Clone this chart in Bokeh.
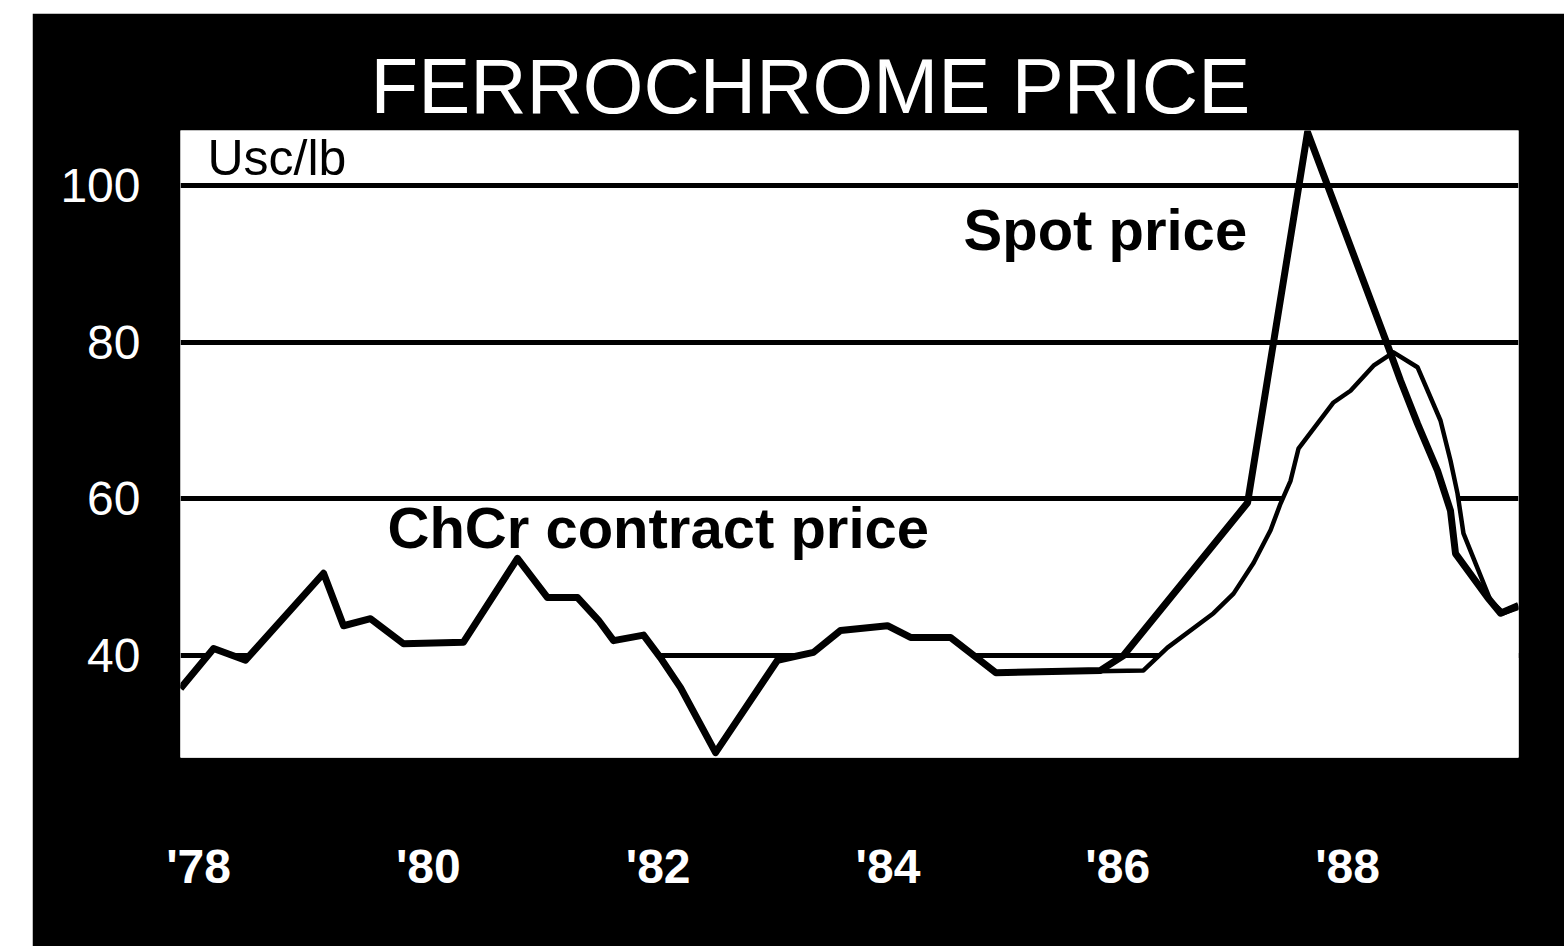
from bokeh.plotting import figure
from bokeh.models import FixedTicker, Label, Spacer, Range1d
from bokeh.layouts import row, column
from bokeh.embed import file_html
from bokeh.resources import INLINE

# ---- data ----
contract_years = [1977.843, 1978.131, 1978.409, 1979.088, 1979.262, 1979.497, 1979.784,
                  1980.306, 1980.776, 1981.037, 1981.299, 1981.481, 1981.612, 1981.873,
                  1982.021, 1982.195, 1982.500, 1983.039, 1983.352, 1983.587, 1983.996,
                  1984.197, 1984.545, 1984.940, 1986.224, 1986.433, 1986.834, 1987.008,
                  1987.182, 1987.330, 1987.417, 1987.504, 1987.573, 1987.878, 1988.026,
                  1988.226, 1988.400, 1988.609, 1988.809, 1988.896, 1988.957, 1989.009,
                  1989.245, 1989.358, 1989.488]
contract_values = [35.8, 40.9, 39.4, 50.5, 43.8, 44.7, 41.5,
                   41.7, 52.4, 47.4, 47.4, 44.5, 41.9, 42.6,
                   39.7, 35.9, 27.6, 39.4, 40.4, 43.2, 43.8,
                   42.3, 42.3, 37.8, 38.1, 41.0, 45.4, 47.9,
                   51.8, 56.0, 59.4, 62.3, 66.4, 72.3, 73.8,
                   77.0, 78.7, 76.8, 70.0, 64.9, 60.7, 55.6,
                   47.0, 45.4, 46.1]

spot_years = [1977.843, 1978.131, 1978.409, 1979.088, 1979.262, 1979.497, 1979.784,
              1980.306, 1980.776, 1981.037, 1981.299, 1981.481, 1981.612, 1981.873,
              1982.021, 1982.195, 1982.500, 1983.039, 1983.352, 1983.587, 1983.996,
              1984.197, 1984.545, 1984.940, 1985.850, 1986.050, 1987.130, 1987.652,
              1988.357, 1988.461, 1988.609, 1988.783, 1988.896, 1988.940, 1989.219,
              1989.332, 1989.488]
spot_values = [35.8, 40.9, 39.4, 50.5, 43.8, 44.7, 41.5,
               41.7, 52.4, 47.4, 47.4, 44.5, 41.9, 42.6,
               39.7, 35.9, 27.6, 39.4, 40.4, 43.2, 43.8,
               42.3, 42.3, 37.8, 38.1, 40.0, 59.5, 106.8,
               79.3, 75.1, 69.6, 63.6, 58.5, 53.0, 47.4,
               45.4, 46.4]

y_ticks = [40, 60, 80, 100]
x_ticks = [1978, 1980, 1982, 1984, 1986, 1988]
x_tick_labels = ["'78", "'80", "'82", "'84", "'86", "'88"]

title_text = "FERROCHROME PRICE"
unit_text = "Usc/lb"
spot_label = "Spot price"
contract_label = "ChCr contract price"

# ---- figure ----
p = figure(width=1532, height=933,
           x_range=Range1d(1977.843, 1989.488), y_range=Range1d(26.98, 107.02),
           output_backend="svg", toolbar_location=None,
           min_border_left=148, min_border_right=46,
           min_border_top=117, min_border_bottom=189,
           background_fill_color="white", border_fill_color="black",
           outline_line_color=None)

p.title.text = title_text
p.title.text_color = "white"
p.title.text_font = "Liberation Sans"
p.title.text_font_size = "78px"
p.title.text_font_style = "normal"
p.title.align = "left"
p.title.offset = 190
p.title.standoff = 2

p.xgrid.visible = False
p.ygrid.ticker = FixedTicker(ticks=y_ticks)
p.ygrid.grid_line_color = "black"
p.ygrid.grid_line_width = 5

p.yaxis.ticker = FixedTicker(ticks=y_ticks)
p.yaxis.axis_line_color = None
p.yaxis.major_tick_line_color = None
p.yaxis.minor_tick_line_color = None
p.yaxis.major_label_text_color = "white"
p.yaxis.major_label_text_font = "Liberation Sans"
p.yaxis.major_label_text_font_size = "48px"
p.yaxis.major_label_standoff = 34

p.xaxis.ticker = FixedTicker(ticks=x_ticks)
p.xaxis.major_label_overrides = {t: l for t, l in zip(x_ticks, x_tick_labels)}
p.xaxis.axis_line_color = None
p.xaxis.major_tick_line_color = None
p.xaxis.minor_tick_line_color = None
p.xaxis.major_label_text_color = "white"
p.xaxis.major_label_text_font = "Liberation Sans"
p.xaxis.major_label_text_font_style = "bold"
p.xaxis.major_label_text_font_size = "48px"
p.xaxis.major_label_standoff = 76

# white area under the contract line hides the grid lines there
p.varea(x=contract_years, y1=20, y2=contract_values, fill_color="white")

p.line(contract_years, contract_values, line_color="black", line_width=4.5, line_join="round")
p.line(spot_years, spot_values, line_color="black", line_width=7, line_join="round")

p.add_layout(Label(x=1978.078, y=103.5, text=unit_text, text_color="black",
                   text_font="Liberation Sans", text_font_size="50px",
                   text_align="left", text_baseline="alphabetic"))
p.add_layout(Label(x=1984.658, y=94.4, text=spot_label, text_color="black",
                   text_font="Liberation Sans", text_font_size="58px", text_font_style="bold",
                   text_align="left", text_baseline="alphabetic"))
p.add_layout(Label(x=1979.645, y=56.3, text=contract_label, text_color="black",
                   text_font="Liberation Sans", text_font_size="58px", text_font_style="bold",
                   text_align="left", text_baseline="alphabetic"))

layout = row(Spacer(width=32, height=946),
             column(Spacer(width=1532, height=13), p))

open("out.html", "w").write(file_html(layout, INLINE))
